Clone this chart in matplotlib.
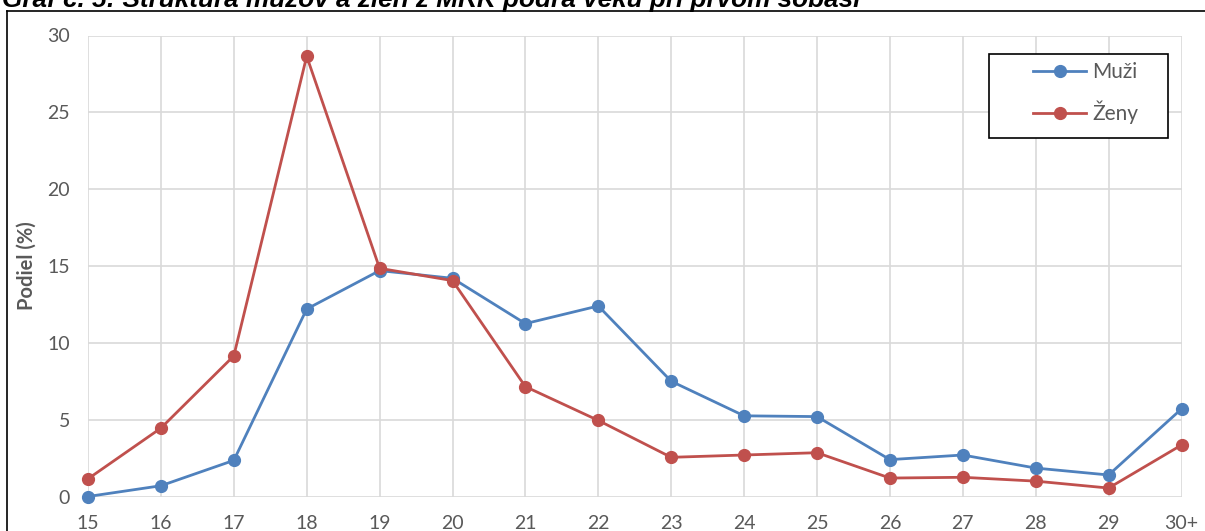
import matplotlib
matplotlib.use("Agg")
import matplotlib.pyplot as plt
from matplotlib.lines import Line2D
from matplotlib.patches import Rectangle

vek = ["15", "16", "17", "18", "19", "20", "21", "22", "23", "24", "25", "26", "27", "28", "29", "30+"]
muzi = [0.0, 0.7, 2.35, 12.2, 14.7, 14.2, 11.25, 12.4, 7.5, 5.25, 5.2, 2.4, 2.7, 1.85, 1.4, 5.7]
zeny = [1.15, 4.45, 9.15, 28.65, 14.85, 14.05, 7.15, 4.95, 2.55, 2.7, 2.85, 1.2, 1.25, 1.0, 0.55, 3.35]
y_ticks = [0, 5, 10, 15, 20, 25, 30]

W, H = 1205, 531
fig = plt.figure(figsize=(W / 100, H / 100), dpi=100)
fig.patch.set_facecolor("white")

ax = fig.add_axes([88 / W, 1 - 496.5 / H, (1181.5 - 88) / W, (496.5 - 35.5) / H])

x = list(range(len(vek)))
ax.plot(x, muzi, color="#4F81BD", lw=2.0, marker="o", ms=8.5, label="Muži", clip_on=False, zorder=3)
ax.plot(x, zeny, color="#C0504D", lw=2.0, marker="o", ms=8.5, label="Ženy", clip_on=False, zorder=3)

ax.set_xlim(0, len(vek) - 1)
ax.set_ylim(0, 30)
ax.set_xticks(x)
ax.set_xticklabels(vek)
ax.set_yticks(y_ticks)
ax.grid(True, color="#D9D9D9", lw=1.2)
ax.set_axisbelow(True)
for s in ax.spines.values():
    s.set_visible(False)
ax.tick_params(length=0, labelcolor="#595959", labelsize=14)
ax.tick_params(axis="x", pad=13)
ax.tick_params(axis="y", pad=13)
for lab in ax.get_xticklabels() + ax.get_yticklabels():
    lab.set_family("Lato")

fig.text(27 / W, 1 - 266 / H, "Podiel (%)", rotation=90, ha="center", va="center",
         fontsize=14.5, fontweight="bold", color="#595959", family="Lato")

# title, cut off at the top like in the source
fig.text(2 / W, 1 - 7 / H, "Graf č. 5: Štruktúra mužov a žien z MRK podľa veku pri prvom sobáši",
         ha="left", va="baseline", fontsize=18.8, fontweight="bold", style="italic",
         family="Liberation Sans", color="black")

# outer frame
fig.add_artist(Line2D([7 / W, 1], [1 - 10.7 / H, 1 - 10.7 / H], color="black", lw=1.2))
fig.add_artist(Line2D([7 / W, 7 / W], [0, 1 - 10.7 / H], color="black", lw=1.2))

# legend
fig.add_artist(Rectangle((989 / W, 1 - 138 / H), (1168 - 989) / W, (138 - 54) / H,
                         transform=fig.transFigure, fill=True, facecolor="white",
                         edgecolor="black", lw=1.2, zorder=4))
leg = fig.legend(loc="upper left", bbox_to_anchor=(1033 / W, 1 - 62 / H), frameon=False,
                 borderpad=0, borderaxespad=0, handlelength=2.55, handletextpad=0.3,
                 labelspacing=0.9, prop={"family": "Lato", "size": 15})
leg.set_zorder(5)
for t in leg.get_texts():
    t.set_color("#595959")

fig.savefig("out.png", dpi=100, facecolor="white")
